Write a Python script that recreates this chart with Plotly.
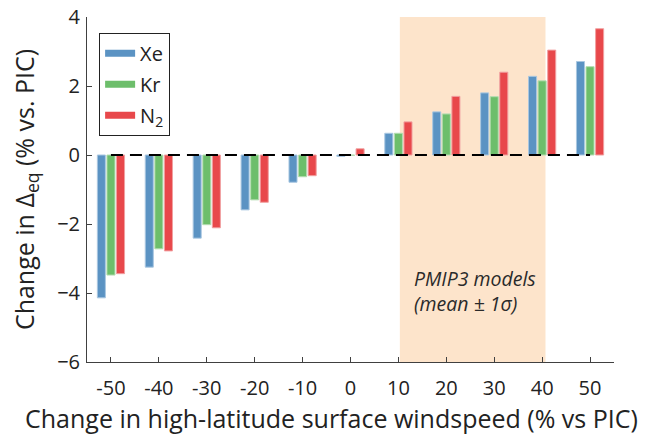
import plotly.graph_objects as go

windspeed = [-50, -40, -30, -20, -10, 0, 10, 20, 30, 40, 50]
xe = [-4.14, -3.25, -2.41, -1.59, -0.79, -0.04, 0.63, 1.25, 1.80, 2.28, 2.71]
kr = [-3.48, -2.72, -2.02, -1.30, -0.63, -0.01, 0.63, 1.19, 1.69, 2.15, 2.56]
n2 = [-3.44, -2.78, -2.11, -1.37, -0.60, 0.18, 0.96, 1.70, 2.40, 3.04, 3.66]
pmip_lo, pmip_hi = 10.3, 40.7

names = ["Xe", "Kr", "N<sub>2</sub>"]
colors = ["#5b93c3", "#6dbe6b", "#e8484b"]
edges = ["#a9c7e1", "#b3dcb1", "#f1a0a1"]
offsets = [-2.84, -0.84, 1.16]
bar_w = 1.68
FONT = "Open Sans"

fig = go.Figure()
for name, vals, c, e, off in zip(names, [xe, kr, n2], colors, edges, offsets):
    fig.add_trace(go.Bar(x=windspeed, y=vals, width=bar_w, offset=off,
                         marker=dict(color=c, line=dict(color=e, width=1)),
                         showlegend=False, name=name))

fig.add_trace(go.Scatter(x=[windspeed[0], windspeed[-1]], y=[0, 0], mode="lines",
                         line=dict(color="black", width=2, dash="12px,7px"),
                         showlegend=False, hoverinfo="skip"))

for i, (name, c) in enumerate(zip(names, colors)):
    fig.add_trace(go.Scatter(x=[None], y=[None], mode="lines", name=name,
                             legendgroup=str(i),
                             line=dict(color=c, width=7)))

fig.add_shape(type="rect", xref="x", yref="y", x0=pmip_lo, x1=pmip_hi, y0=-6, y1=4,
              fillcolor="#fde4cb", line=dict(width=0), layer="below")

fig.add_annotation(x=12.8, y=-3.95, xref="x", yref="y", xanchor="left", yanchor="middle",
                   text="<i>PMIP3 models<br>(mean ± 1σ)</i>", showarrow=False, align="left",
                   font=dict(family=FONT, size=19.5, color="#2a2a2a"))

# x-axis title (offset left of the plot centre, as in the reference)
fig.add_annotation(x=0.463, y=-0.162, xref="paper", yref="paper",
                   xanchor="center", yanchor="middle", showarrow=False,
                   text="Change in high-latitude surface windspeed (% vs PIC)",
                   font=dict(family=FONT, size=25, color="#222"))

axis_common = dict(showline=True, linecolor="#404040", linewidth=1, ticks="inside",
                   ticklen=5, tickcolor="#404040", showgrid=False, zeroline=False,
                   tickfont=dict(family=FONT, size=20, color="#222"),
                   ticklabeloverflow="allow",
                   mirror=False, automargin=False)

fig.update_layout(
    width=648, height=438,
    margin=dict(l=87, r=34, t=17, b=76),
    plot_bgcolor="white", paper_bgcolor="white",
    barmode="overlay",
    xaxis=dict(range=[-55, 55], tickvals=windspeed,
               ticktext=[str(v) for v in windspeed],
               ticklabelstandoff=8,
               **axis_common),
    yaxis=dict(range=[-6, 4], tickvals=[-6, -4, -2, 0, 2, 4],
               ticklabelstandoff=2,
               title=dict(text="Change in Δ<sub>eq</sub> (% vs. PIC)",
                          font=dict(family=FONT, size=25, color="#222")),
               **axis_common),
    legend=dict(x=0.023, y=0.954, xanchor="left", yanchor="top",
                bordercolor="#222", borderwidth=1, bgcolor="white",
                font=dict(family=FONT, size=20, color="#222"),
                tracegroupgap=2),
    showlegend=True,
)

fig.write_html("out.html", config={"displayModeBar": False},
               post_script="document.body.style.margin='0';")
